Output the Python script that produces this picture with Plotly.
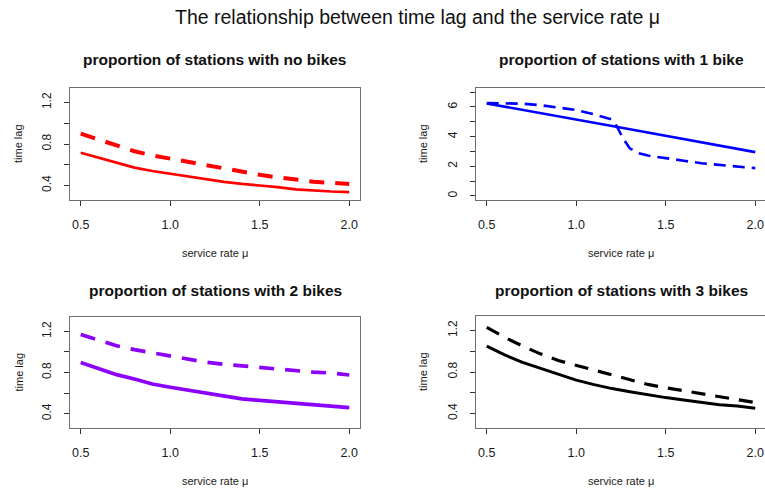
import plotly.graph_objects as go

# ---------------- data ----------------
mu = [0.5, 0.6, 0.7, 0.8, 0.9, 1.0, 1.1, 1.2, 1.3, 1.4, 1.5, 1.6, 1.7, 1.8, 1.9, 2.0]

no_bikes_solid = [0.715, 0.665, 0.615, 0.572, 0.540, 0.513, 0.485, 0.462, 0.435, 0.415, 0.403, 0.385, 0.362, 0.350, 0.342, 0.336]
no_bikes_dashed = [0.900, 0.840, 0.785, 0.730, 0.690, 0.658, 0.622, 0.593, 0.562, 0.531, 0.503, 0.478, 0.455, 0.437, 0.425, 0.415]

one_bike_solid = [6.24, 6.03, 5.82, 5.60, 5.38, 5.16, 4.94, 4.72, 4.50, 4.28, 4.06, 3.84, 3.62, 3.40, 3.18, 2.95]
mu_one_bike_dashed = [0.5, 0.6, 0.7, 0.8, 0.9, 1.0, 1.1, 1.2, 1.23, 1.26, 1.3, 1.35, 1.4, 1.5, 1.6, 1.7, 1.8, 1.9, 2.0]
one_bike_dashed = [6.27, 6.27, 6.22, 6.12, 5.97, 5.80, 5.50, 5.15, 4.62, 3.90, 3.20, 2.88, 2.72, 2.52, 2.37, 2.20, 2.08, 1.97, 1.87]

two_bikes_solid = [0.898, 0.838, 0.779, 0.737, 0.688, 0.657, 0.628, 0.598, 0.578, 0.543, 0.528, 0.515, 0.500, 0.490, 0.470, 0.458]
two_bikes_dashed = [1.170, 1.115, 1.060, 1.022, 0.990, 0.962, 0.930, 0.900, 0.880, 0.865, 0.848, 0.830, 0.815, 0.803, 0.795, 0.776]

three_bikes_solid = [1.050, 0.965, 0.892, 0.835, 0.776, 0.722, 0.678, 0.640, 0.610, 0.580, 0.553, 0.530, 0.510, 0.484, 0.472, 0.450]
three_bikes_dashed = [1.230, 1.135, 1.050, 0.975, 0.910, 0.865, 0.815, 0.770, 0.725, 0.680, 0.648, 0.620, 0.585, 0.560, 0.535, 0.505]

x_ticks = [0.5, 1.0, 1.5, 2.0]
x_tick_labels = ["0.5", "1.0", "1.5", "2.0"]
y_ticks_small = [0.4, 0.6, 0.8, 1.0, 1.2]
y_tick_labels_small = ["0.4", "", "0.8", "", "1.2"]
y_ticks_big = [0, 1, 2, 3, 4, 5, 6, 7]
y_tick_labels_big = ["0", "", "2", "", "4", "", "6", ""]

main_title = "The relationship between time lag and the service rate \u03bc"
panel_titles = ["proportion of stations with no bikes", "proportion of stations with 1 bike",
                "proportion of stations with 2 bikes", "proportion of stations with 3 bikes"]
x_title = "service rate \u03bc"
y_title = "time lag"

# ---------------- layout helpers ----------------
W, H = 765, 489
FONT = "Liberation Sans, Arial, Helvetica, sans-serif"

def px(x):
    return x / W

def py(y):
    return 1 - y / H

boxes = [  # left, right, top, bottom (pixels)
    (70, 360, 88, 200),
    (476, 765, 88, 200),
    (70, 360, 317, 428),
    (476, 765, 316, 428),
]

fig = go.Figure()

series = [
    (mu, no_bikes_solid, mu, no_bikes_dashed, "#FF0000", 2.7, 4.0, "15px,11px"),
    (mu, one_bike_solid, mu_one_bike_dashed, one_bike_dashed, "#0000FF", 2.6, 2.6, "12px,7px"),
    (mu, two_bikes_solid, mu, two_bikes_dashed, "#8C00FA", 3.7, 3.7, "15px,11px"),
    (mu, three_bikes_solid, mu, three_bikes_dashed, "#000000", 3.0, 3.2, "14px,10px"),
]

for i, (xs, ys, xd, yd, col, lws, lwd, dash) in enumerate(series):
    n = "" if i == 0 else str(i + 1)
    fig.add_trace(go.Scatter(x=xs, y=ys, mode="lines", xaxis="x" + n, yaxis="y" + n,
                             line=dict(color=col, width=lws), showlegend=False, hoverinfo="skip"))
    fig.add_trace(go.Scatter(x=xd, y=yd, mode="lines", xaxis="x" + n, yaxis="y" + n,
                             line=dict(color=col, width=lwd, dash=dash), showlegend=False, hoverinfo="skip"))

layout = dict(width=W, height=H, margin=dict(l=0, r=0, t=0, b=0),
              paper_bgcolor="white", plot_bgcolor="white", showlegend=False,
              font=dict(family=FONT, color="#1a1a1a"))

BOX = "#707070"
TICK = "#333333"

annotations = [dict(text=main_title, x=px(418), y=py(17), xref="paper", yref="paper",
                    showarrow=False, font=dict(size=19.5, family=FONT, color="#111"),
                    xanchor="center", yanchor="middle")]

for i, (l, r, t, b) in enumerate(boxes):
    n = "" if i == 0 else str(i + 1)
    right_panel = i in (1, 3)
    if right_panel:
        xr = [0.44, 0.44 + (r - l) / 179.0]
    else:
        xr = [0.44, 2.06]
    if i == 1:
        yr = [-0.28, 7.28]
        yt, ytl = y_ticks_big, y_tick_labels_big
    else:
        yr = [0.26, 1.34]
        yt, ytl = y_ticks_small, y_tick_labels_small
    layout["xaxis" + n] = dict(domain=[px(l), px(r)], range=xr, anchor="y" + n,
                               showgrid=False, zeroline=False, showline=True, linecolor=BOX, linewidth=1,
                               mirror=True, ticks="outside", ticklen=5, tickcolor=TICK, tickwidth=1,
                               tickvals=x_ticks, ticktext=x_tick_labels,
                               tickfont=dict(size=12.5, family=FONT, color="#1a1a1a"),
                               ticklabelstandoff=8)
    layout["yaxis" + n] = dict(domain=[py(b), py(t)], range=yr, anchor="x" + n,
                               showgrid=False, zeroline=False, showline=True, linecolor=BOX, linewidth=1,
                               mirror=not right_panel, ticks="outside", ticklen=5, tickcolor=TICK, tickwidth=1,
                               tickvals=yt, ticktext=ytl, tickangle=-90,
                               tickfont=dict(size=12, family=FONT, color="#1a1a1a"),
                               ticklabelstandoff=8)
    cx = (l + (l + 290)) / 2
    title_y = 60 if i < 2 else 290
    annotations.append(dict(text="<b>" + panel_titles[i] + "</b>", x=px(cx), y=py(title_y),
                            xref="paper", yref="paper", showarrow=False,
                            font=dict(size=15.5, family=FONT, color="#111"),
                            xanchor="center", yanchor="middle"))
    xt_y = 253 if i < 2 else 481
    annotations.append(dict(text=x_title, x=px(cx), y=py(xt_y), xref="paper", yref="paper",
                            showarrow=False, font=dict(size=11, family=FONT, color="#1a1a1a"),
                            xanchor="center", yanchor="middle"))
    yt_x = 18 if not right_panel else 423
    annotations.append(dict(text=y_title, x=px(yt_x), y=py((t + b) / 2), xref="paper", yref="paper",
                            showarrow=False, textangle=-90,
                            font=dict(size=11, family=FONT, color="#1a1a1a"),
                            xanchor="center", yanchor="middle"))

layout["annotations"] = annotations
fig.update_layout(**layout)
fig.write_html("out.html", config={"displayModeBar": False, "staticPlot": True},
               post_script="document.body.style.margin='0';document.body.style.padding='0';"
                           "document.body.style.overflow='hidden';")
